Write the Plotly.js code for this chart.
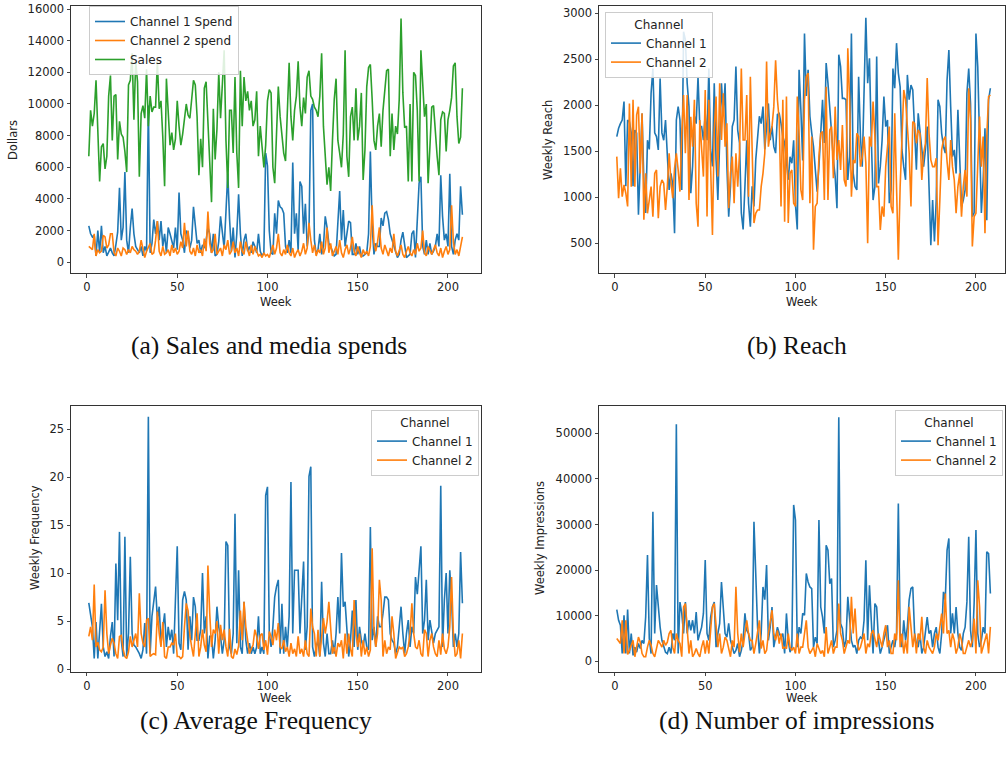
<!DOCTYPE html>
<html>
<head>
<meta charset="utf-8">
<script src="https://cdn.plot.ly/plotly-3.0.1.min.js"></script>
<style>
  html, body { margin: 0; padding: 0; background: #fff; }
  #chart { width: 1006px; height: 764px; }
</style>
</head>
<body>
<div id="chart"></div>
<script>
// ---------- data ----------
var sales = [
  6700, 9600, 8600, 9400, 11500, 7700, 5100, 7300, 7500, 5900,
  6700, 10500, 11800, 7700, 10500, 10600, 6500, 8900, 8100, 7900,
  7000, 5700, 11200, 11500, 13200, 9000, 12700, 11400, 5400, 9400,
  9900, 9100, 12200, 8600, 10500, 9500, 9800, 9800, 12700, 9700,
  10200, 7900, 4800, 11600, 9600, 7400, 8200, 7100, 7800, 10200,
  8600, 7400, 8100, 9000, 10000, 9300, 9100, 10300, 11500, 11200,
  9200, 5500, 7800, 6000, 11000, 11400, 8800, 7200, 3800, 9700,
  6500, 8400, 12000, 9100, 11300, 13400, 7700, 4700, 9600, 9600,
  6900, 11700, 6900, 4700, 12100, 8600, 11700, 10200, 10800, 9600,
  10200, 8600, 9000, 10800, 6700, 8600, 7300, 6000, 7400, 10200,
  10900, 10700, 6000, 5000, 8100, 11100, 9200,
  8100, 6900, 6400, 9400, 12600, 9200, 7700, 9600, 10500, 12700,
  9800, 8600, 10400, 9400, 11700, 12100, 10500, 10300, 9800, 9600,
  9200, 10500, 13200, 8600, 6700, 4900, 6000, 4500, 7700, 10300,
  11600, 7700, 6900, 6000, 8100, 13400, 6700, 5400, 9200, 9800,
  7700, 11000, 7700, 8600, 10700, 5200, 7100, 11100, 12300, 12500,
  10300, 7700, 7100, 8600, 9400, 7300, 9600, 10900, 12100, 12200,
  6700, 9400, 7100, 8600, 8100, 10300, 15400, 10700, 8500, 8600,
  5100, 10000, 5100, 12000, 11800, 9600, 5100, 13400, 11500, 9200,
  10000, 5000, 7300, 9800, 9900, 8100, 6700, 5500, 9000, 9500,
  9400, 7000, 9000, 9600, 10400, 12400, 12600, 9200, 7500, 7900,
  11000
];
var ch1Spend = [
  2300, 1800, 1600, 1700, 400, 2000, 600, 2300, 600, 1000,
  400, 700, 900, 600, 400, 1100, 1900, 4700, 1400, 2200,
  5700, 1400, 600, 2200, 3400, 1800, 1000, 800, 600, 1000,
  400, 1000, 700, 9900, 600, 1200, 2700, 1800, 2600, 1400,
  2600, 1000, 1800, 600, 2200, 1800, 1400, 900, 2200, 800,
  4400, 1800, 1400, 600, 2000, 1800, 900, 1400, 3500, 2200,
  1200, 1400, 600, 1100, 900, 1400, 2200, 1800, 600, 1800,
  400, 500, 1300, 2900, 1800, 900, 3200, 5600, 2700, 700,
  2200, 300, 1800, 4300, 1800, 400, 1400, 1800, 700, 1000,
  600, 1300, 1000, 600, 1800, 700, 400, 600, 6900, 6100,
  2000, 600, 500, 3100, 1800, 3900, 3500, 3400, 3100, 1000,
  600, 1400, 600, 6300, 1800, 3100, 700, 5100, 4800, 1800,
  3700, 1000, 2000, 9600, 10000, 1400, 500, 800, 1800, 500,
  1000, 2900, 2200, 1200, 1000, 700, 400, 500, 2700, 4500,
  1400, 3300, 1000, 1800, 2600, 2500, 500, 500, 1200, 500,
  1000, 400, 400, 500, 600, 1800, 7000, 2300, 500, 1200,
  1000, 1000, 2800, 2300, 3100, 3200, 2700, 1800, 1400, 1000,
  700, 300, 500, 1400, 1900, 1000, 300, 400, 500, 1800,
  2000, 300, 3200, 5000, 5400, 1000, 500, 1400, 500, 1200,
  500, 700, 1000, 1800, 1000, 5500, 2900, 1400, 1800, 1000,
  5600, 1000, 500, 1400, 1800, 1400, 4800, 3000
];
var ch2Spend = [
  1000, 900, 800, 1800, 400, 800, 600, 700, 1700, 1600,
  900, 1100, 1800, 1800, 600, 400, 900, 700, 400, 900,
  800, 500, 800, 600, 1000, 800, 700, 500, 700, 1400,
  800, 300, 700, 1000, 1200, 500, 600, 1400, 2600, 700,
  400, 1000, 500, 600, 800, 400, 1100, 600, 900, 500,
  700, 1300, 900, 2500, 1000, 2000, 700, 500, 900, 400,
  1100, 600, 800, 400, 1500, 700, 3200, 1200, 600, 800,
  1800, 500, 700, 900, 400, 1100, 800, 1400, 500, 700,
  1300, 600, 900, 400, 1300, 700, 500, 1300, 800, 400,
  1100, 500, 1000, 700, 400, 500, 300, 600, 400, 500,
  300, 700, 1100, 500, 900, 1800, 600, 400, 800, 500,
  1100, 600, 400, 900, 300, 600, 800, 400, 700, 1200,
  500, 900, 2500, 1400, 600, 1100, 400, 800, 600, 1300,
  500, 900, 2200, 600, 1200, 400, 700, 1000, 500, 1400,
  600, 300, 800, 1100, 500, 900, 1600, 700, 400, 1000,
  600, 300, 800, 500, 700, 400, 1000, 3600, 1200, 700,
  1300, 2200, 900, 500, 1100, 700, 400, 900, 600, 1800,
  700, 400, 800, 1100, 500, 300, 700, 1000, 600, 400,
  800, 500, 1200, 700, 900, 2000, 600, 400, 1000, 700,
  500, 800, 1100, 600, 400, 900, 300, 700, 1000, 500,
  800, 3600, 1300, 500, 800, 400, 900, 1600
];
var ch1Reach = [
  1660, 1750, 1800, 1840, 2040, 1120, 1840, 1820, 1700, 1120,
  1730, 1700, 810, 1300, 1910, 1170, 830, 1620, 1520, 2130,
  2400, 1700, 1660, 1515, 2290, 1700, 1620, 1840, 1480, 1080,
  1260, 1140, 610, 1840, 1985, 1840, 1080, 2800, 2710, 2240,
  1985, 1045, 1335, 1880, 1800, 2310, 1770, 1770, 1620, 1910,
  1620, 2400, 1515, 1335, 2240, 1410, 970, 1695, 2240, 1880,
  2240, 1335, 790, 1120, 1770, 1840, 2420, 1730, 1590, 830,
  650, 1120, 1620, 935, 680, 1120, 900, 1410, 1700, 1880,
  1800, 1985, 1520, 1770, 2020, 1620, 1770, 1550, 1480, 1900,
  1910, 1800, 1660, 1590, 1410, 1190, 1440, 1370, 1620,
  920, 650, 2385, 1950, 1400, 2780, 2100, 2385, 1880, 1700,
  1550, 1300, 1060, 1335, 1700, 2060, 1590, 2460, 2240, 1913,
  1700, 1406, 1225, 880, 2550, 2420, 2075, 2075, 2060, 1188,
  1442, 2780, 1260, 1116, 1080, 2310, 1660, 1333, 2185, 2950,
  2240, 2510, 1660, 970, 1116, 2530, 1150, 1333, 1620, 2095,
  1768, 1840, 935, 1080, 2400, 2185, 2675, 2350, 2200, 1515,
  1333, 1190, 2330, 2060, 2220, 2167, 1732, 1300, 1913, 1695,
  1515, 1333, 1515, 1768, 1116, 480, 970, 520, 970, 2060,
  1985, 1695, 1550, 1480, 2275, 2600, 1985, 1442, 1515, 1260,
  1950, 1478, 900, 970, 1080, 2130, 2400, 2020, 790, 830,
  2780, 2420, 1695, 830, 1188, 1750, 750, 2060, 2185
];
var ch2Reach = [
  1442, 990, 1315, 1007, 1134, 1044, 900, 2020, 1116, 2060,
  1116, 1895, 1985, 1260, 1913, 755, 1260, 826, 970, 1116,
  790, 1260, 1297, 772, 1116, 1188, 1152, 862, 1116, 1478,
  1170, 990, 1315, 1478, 1297, 1062, 1695, 2112, 1478, 2112,
  970, 1876, 1550, 2060, 935, 680, 1840, 1550, 1225, 2167,
  790, 2060, 1424, 590, 1732, 2094, 1225, 2240, 1623, 2130,
  1550, 1804, 880, 1260, 1442, 935, 1478, 1116, 1478, 2400,
  1623, 1623, 2112, 1007, 2310, 1406, 720, 826, 862, 862,
  1116, 1260, 1478, 2475, 1550, 1695, 1768, 1985, 2490, 2060,
  1840, 900, 2060, 735, 2094, 720, 1260, 1297, 935,
  900, 2094, 1695, 1080, 970, 2060, 2310, 2350, 935, 1660,
  430, 900, 935, 1442, 1695, 1714, 970, 2200, 970, 1732,
  1768, 1206, 1985, 1406, 1623, 1297, 1786, 1188, 1116, 2620,
  2060, 1007, 1406, 1370, 1695, 1660, 1333, 1442, 1660, 1370,
  500, 1660, 1550, 2040, 1660, 1116, 1116, 645, 900, 790,
  1333, 1515, 1768, 900, 826, 1913, 1225, 320, 1116, 1605,
  2167, 2060, 1804, 1478, 900, 1822, 1804, 1587, 1732, 1695,
  1188, 1478, 1587, 2295, 1695, 1406, 1333, 1333, 1424, 480,
  970, 1515, 1623, 1660, 1388, 1188, 1623, 1333, 1188, 826,
  1116, 1260, 790, 1116, 1297, 1007, 2185, 1840, 465, 790,
  826, 1478, 1877, 1333, 1660, 610, 1660, 2094, 2112
];
var ch1Freq = [
  6.9, 5.5, 4.4, 1.1, 4.9, 1.1, 3.7, 6.8, 2.3, 1.3,
  1.8, 1.1, 3.4, 4.9, 1.3, 11.0, 5.1, 14.3, 3.0, 1.3,
  13.8, 1.3, 3.7, 11.7, 3.7, 2.5, 2.3, 2.0, 1.6, 1.1,
  2.0, 4.8, 1.6, 26.3, 1.6, 5.5, 7.2, 8.6, 5.1, 6.5,
  2.7, 4.4, 5.8, 2.3, 4.4, 3.0, 4.1, 1.6, 6.5, 12.8,
  2.7, 2.0, 7.2, 8.1, 7.2, 2.0, 5.5, 3.0, 7.5, 6.5,
  3.0, 3.0, 4.1, 10.0, 3.7, 5.5, 1.1, 3.4, 3.4, 1.1,
  3.0, 6.5, 4.4, 3.4, 1.6, 3.0, 13.3, 12.9, 2.3, 1.6,
  3.7, 16.2, 2.7, 10.3, 2.3, 1.6, 7.0, 3.0, 1.6, 2.7,
  1.6, 2.3, 1.6, 2.3, 5.5, 1.6, 2.3, 1.6, 18.1, 19.0,
  3.7, 2.3, 4.4, 7.5, 8.6, 9.3, 1.6, 6.8, 1.6, 4.4,
  2.3, 5.5, 19.5, 3.7, 10.3, 10.3, 10.3, 3.7, 7.9, 11.2,
  2.0, 4.4, 20.1, 21.1, 2.3, 1.3, 2.3, 3.0, 1.3, 9.1,
  2.7, 1.3, 3.7, 1.6, 1.6, 3.0, 1.6, 3.7, 7.5, 3.7,
  12.1, 6.5, 7.0, 3.7, 1.3, 3.0, 6.1, 2.3, 7.2, 2.0,
  4.4, 3.0, 2.3, 3.7, 2.3, 2.0, 14.8, 3.0, 4.4, 2.3,
  5.5, 4.4, 4.4, 5.8, 7.5, 7.5, 7.2, 3.7, 3.0, 2.7,
  1.6, 2.3, 4.4, 6.5, 3.7, 1.6, 3.7, 5.1, 2.3, 4.4,
  3.7, 9.6, 7.8, 10.7, 12.8, 3.7, 5.1, 9.3, 3.0, 5.1,
  3.7, 2.7, 3.7, 4.1, 4.4, 19.1, 2.3, 7.2, 10.0, 3.7,
  10.3, 7.2, 2.3, 3.7, 2.3, 3.7, 12.2, 6.85
];
var ch2Freq = [
  3.4, 4.4, 3.0, 8.8, 2.3, 2.8, 2.0, 1.8, 2.3, 8.2,
  3.7, 1.6, 2.5, 3.2, 2.7, 1.6, 1.1, 3.4, 3.5, 2.1,
  1.3, 1.1, 1.8, 3.4, 2.3, 3.0, 3.7, 2.3, 7.9, 3.7,
  2.7, 2.3, 5.1, 5.3, 1.3, 1.5, 1.6, 1.5, 6.0, 3.7,
  2.3, 4.9, 1.3, 1.1, 2.3, 2.3, 2.7, 2.5, 3.7, 1.3,
  1.3, 1.1, 1.3, 4.4, 6.85, 6.1, 3.5, 2.3, 1.3, 3.7,
  5.8, 1.3, 2.3, 4.1, 2.5, 1.8, 10.8, 5.8, 2.3, 4.1,
  3.7, 5.0, 1.6, 4.6, 3.0, 4.1, 2.3, 1.3, 4.2, 1.3,
  1.1, 2.1, 1.5, 2.4, 6.1, 3.0, 7.0, 4.4, 3.0, 1.6,
  2.1, 2.5, 4.1, 3.4, 2.1, 3.5, 3.7, 2.0, 3.0, 1.5,
  3.9, 3.4, 2.5, 4.1, 3.0, 4.8, 2.3, 2.1, 3.0, 1.8,
  2.3, 1.3, 2.7, 1.6, 2.1, 1.3, 3.4, 1.6, 2.1, 1.3,
  3.0, 1.6, 1.3, 6.3, 4.4, 3.7, 1.3, 4.1, 1.3, 3.0,
  5.3, 3.7, 4.9, 7.0, 3.7, 1.6, 2.3, 1.3, 2.7, 2.3,
  3.0, 1.1, 3.7, 1.6, 3.7, 2.1, 1.3, 7.2, 3.7, 2.3,
  3.7, 1.3, 3.0, 1.5, 2.3, 1.3, 2.0, 12.6, 4.1, 2.3,
  3.7, 9.3, 7.2, 1.3, 3.0, 1.6, 2.3, 2.0, 5.5, 3.7,
  1.1, 1.6, 2.3, 2.1, 2.3, 1.3, 1.6, 2.3, 3.7, 6.85,
  3.7, 2.3, 2.1, 3.0, 1.6, 1.3, 4.1, 3.7, 1.3, 3.0,
  3.7, 2.3, 1.6, 1.3, 3.0, 1.5, 3.7, 2.1, 1.6, 2.3,
  4.4, 9.6, 3.7, 1.3, 1.6, 3.0, 1.1, 3.7
];
var ch1Impr = [
  11350, 9000, 7900, 1700, 10100, 1700, 11350, 1700, 6100, 1300,
  3100, 2000, 3900, 2800, 4600, 3900, 9700, 23300, 5000, 1700,
  32800, 6100, 16700, 11900, 7500, 4600, 3100, 2000, 1700, 3100,
  1700, 6100, 4600, 52000, 1700, 13000, 10500, 6100, 13000, 6100,
  9000, 6800, 9000, 6100, 10800, 4600, 6100, 7500, 10500, 22200,
  6100, 4600, 9700, 11900, 13000, 3100, 6100, 8300, 17400, 10500,
  6100, 5300, 8300, 4600, 3100, 1700, 2400, 3900, 1000, 2400,
  4600, 10500, 6800, 6100, 2400, 3100, 30600, 19000, 7500, 1700,
  6100, 16300, 13500, 21100, 4600, 7500, 11900, 3100, 5300, 7500,
  6100, 5300, 6100, 1700, 10500, 4600, 2000, 3100, 34300, 31000,
  3100, 7500, 6100, 10500, 10100, 19250, 17400, 16300, 15960, 3100,
  5300, 3900, 30960, 11900, 9700, 6100, 25470, 24380, 17000, 18150,
  3100, 4600, 6800, 53500, 8300, 7200, 3100, 4600, 14130, 9700,
  4600, 3100, 3500, 1700, 4600, 5300, 4900, 9000, 22180, 4600,
  16690, 9000, 1700, 12660, 11900, 4600, 1700, 3100, 4600, 6100,
  7900, 1700, 3100, 4600, 3100, 6100, 34620, 6100, 3100, 9000,
  4600, 7500, 13500, 15960, 16300, 6100, 3900, 3100, 6100, 1700,
  3100, 6100, 9700, 6100, 6800, 3100, 6100, 7500, 3100, 1700,
  6100, 15230, 13500, 24380, 26940, 6100, 10500, 6100, 11900, 6100,
  3100, 2400, 6100, 7500, 13030, 27300, 6800, 3100, 12800, 28770,
  6100, 3100, 4600, 7500, 6100, 24000, 23600, 14860
];
var ch2Impr = [
  5000, 4300, 3900, 9000, 1700, 9000, 1500, 2400, 3500, 4600,
  1000, 3100, 5300, 4200, 1700, 1000, 1000, 3100, 4600, 3500,
  1700, 1000, 2800, 4600, 3900, 3100, 4600, 3500, 4200, 6100,
  6800, 3100, 1700, 6100, 4600, 3900, 1000, 11900, 12660, 6100,
  1700, 4600, 1000, 1700, 2800, 1700, 1000, 3100, 4600, 1700,
  4600, 1700, 6100, 11930, 12660, 7500, 3100, 6100, 1700, 3100,
  5300, 4600, 3100, 1000, 4600, 3100, 16320, 6100, 2000, 6100,
  3100, 6100, 9000, 6100, 4600, 4600, 1700, 3900, 6100, 9000,
  2800, 4600, 1700, 2400, 6100, 9000, 11200, 6100, 4600, 6800,
  3900, 6100, 2800, 3100, 2800, 6100, 3100, 2400, 3100, 1700,
  6100, 1700, 3100, 3100, 6800, 9000, 3100, 1700, 2400, 3100,
  1000, 3900, 2800, 1700, 2400, 1000, 7500, 1700, 3100, 4600,
  1700, 3100, 3100, 12660, 6100, 4600, 1700, 3100, 4600, 3900,
  14130, 6100, 11570, 4600, 2400, 3100, 4600, 6100, 1700, 3900,
  3100, 6100, 6800, 4600, 3100, 6100, 4600, 3100, 6100, 7900,
  3100, 4600, 1700, 1700, 6100, 4600, 17790, 3100, 6100, 1700,
  4600, 1700, 11930, 6800, 3100, 6100, 1700, 6100, 4600, 9740,
  3100, 1700, 4600, 3100, 2400, 1700, 3100, 6100, 4600, 7500,
  10470, 6100, 14860, 6100, 6800, 3100, 6100, 4600, 1700, 3100,
  6100, 4600, 1700, 1700, 3100, 4600, 3100, 4600, 9370, 1700,
  17790, 11930, 1700, 3100, 4600, 6100, 1700, 7540
];
var xTicks = [0, 50, 100, 150, 200];
var captions = ["(a) Sales and media spends", "(b) Reach", "(c) Average Frequency", "(d) Number of impressions"];

// weeks 1..N (category axis of the weekly series)
function weeksFor(arr) { var w = []; for (var i = 0; i < arr.length; i++) w.push(i + 1); return w; }

// ---------- styling ----------
var C1 = '#1f77b4', C2 = '#ff7f0e', C3 = '#2ca02c';
var LW = 1.6;
var tickFont = {family: 'DejaVu Sans, sans-serif', size: 11.5, color: '#222'};
function axis(extra) {
  var a = {
    showline: true, mirror: true, linecolor: '#333', linewidth: 1,
    ticks: 'outside', ticklen: 3.5, tickwidth: 0.9, tickcolor: '#333',
    showgrid: false, zeroline: false, tickfont: tickFont, fixedrange: true
  };
  for (var k in extra) a[k] = extra[k];
  return a;
}
function line(y, name, color, xa, ya, leg) {
  return {x: weeksFor(y), y: y, name: name, type: 'scatter', mode: 'lines',
          line: {color: color, width: LW}, xaxis: xa, yaxis: ya, legend: leg};
}

var traces = [
  line(ch1Spend, 'Channel 1 Spend', C1, 'x', 'y', 'legend'),
  line(ch2Spend, 'Channel 2 spend', C2, 'x', 'y', 'legend'),
  line(sales, 'Sales', C3, 'x', 'y', 'legend'),
  line(ch1Reach, 'Channel 1', C1, 'x2', 'y2', 'legend2'),
  line(ch2Reach, 'Channel 2', C2, 'x2', 'y2', 'legend2'),
  line(ch1Freq, 'Channel 1', C1, 'x3', 'y3', 'legend3'),
  line(ch2Freq, 'Channel 2', C2, 'x3', 'y3', 'legend3'),
  line(ch1Impr, 'Channel 1', C1, 'x4', 'y4', 'legend4'),
  line(ch2Impr, 'Channel 2', C2, 'x4', 'y4', 'legend4')
];

var W = 1006, H = 764;
function px(v) { return v / W; }
function py(v) { return 1 - v / H; }

var legFont = {family: 'DejaVu Sans, sans-serif', size: 12, color: '#222'};
function legend(x, y, xanchor, title) {
  var l = {x: x, y: y, xanchor: xanchor, yanchor: 'top', xref: 'paper', yref: 'paper',
           bgcolor: 'rgba(255,255,255,0.85)', bordercolor: '#cccccc', borderwidth: 1,
           font: legFont, tracegroupgap: 0, itemwidth: 30};
  if (title) l.title = {text: title, side: 'top center', font: legFont};
  return l;
}

var xDomL = [px(71), px(481)], xDomR = [px(599), px(1005)];
var yDomT = [py(273), py(6)], yDomB = [py(671.5), py(406)];

function ann(text, x, y, opts) {
  var a = {text: text, x: x, y: y, xref: 'paper', yref: 'paper', showarrow: false,
           xanchor: 'center', yanchor: 'middle',
           font: {family: 'DejaVu Sans, sans-serif', size: 11.5, color: '#222'}};
  for (var k in opts) a[k] = opts[k];
  return a;
}
var capFont = {family: 'Liberation Serif, serif', size: 25.5, color: '#111'};

var layout = {
  width: W, height: H,
  margin: {l: 0, r: 0, t: 0, b: 0},
  paper_bgcolor: '#fff', plot_bgcolor: '#fff',
  showlegend: true,
  xaxis:  axis({domain: xDomL, anchor: 'y',  range: [-8.86, 218.3], tickvals: xTicks}),
  yaxis:  axis({domain: yDomT, anchor: 'x',  range: [-676, 16190], dtick: 2000, tick0: 0, tickformat: 'd'}),
  xaxis2: axis({domain: xDomR, anchor: 'y2', range: [-8.86, 216.1], tickvals: xTicks}),
  yaxis2: axis({domain: yDomT, anchor: 'x2', range: [177, 3079], dtick: 500, tick0: 0, tickformat: 'd'}),
  xaxis3: axis({domain: xDomL, anchor: 'y3', range: [-8.86, 218.3], tickvals: xTicks}),
  yaxis3: axis({domain: yDomB, anchor: 'x3', range: [-0.26, 27.43], dtick: 5, tick0: 0}),
  xaxis4: axis({domain: xDomR, anchor: 'y4', range: [-8.86, 216.1], tickvals: xTicks}),
  yaxis4: axis({domain: yDomB, anchor: 'x4', range: [-2237, 55990], dtick: 10000, tick0: 0, tickformat: 'd'}),
  legend:  legend(px(89), py(6), 'left', null),
  legend2: legend(px(605), py(12), 'left', 'Channel'),
  legend3: legend(px(479), py(410), 'right', 'Channel'),
  legend4: legend(px(1003), py(410), 'right', 'Channel'),
  annotations: [
    ann('Week', px(276), py(302)),
    ann('Week', px(802), py(302)),
    ann('Week', px(276), py(698)),
    ann('Week', px(802), py(698)),
    ann('Dollars', px(13), py(140), {textangle: -90}),
    ann('Weekly Reach', px(548), py(140), {textangle: -90}),
    ann('Weekly Frequency', px(35), py(538), {textangle: -90}),
    ann('Weekly Impressions', px(540), py(538), {textangle: -90}),
    ann(captions[0], px(269), py(345), {font: capFont}),
    ann(captions[1], px(797), py(345), {font: capFont}),
    ann(captions[2], px(256), py(720), {font: capFont}),
    ann(captions[3], px(797), py(720), {font: capFont})
  ]
};

Plotly.newPlot('chart', traces, layout, {staticPlot: true, displayModeBar: false});
</script>
</body>
</html>
